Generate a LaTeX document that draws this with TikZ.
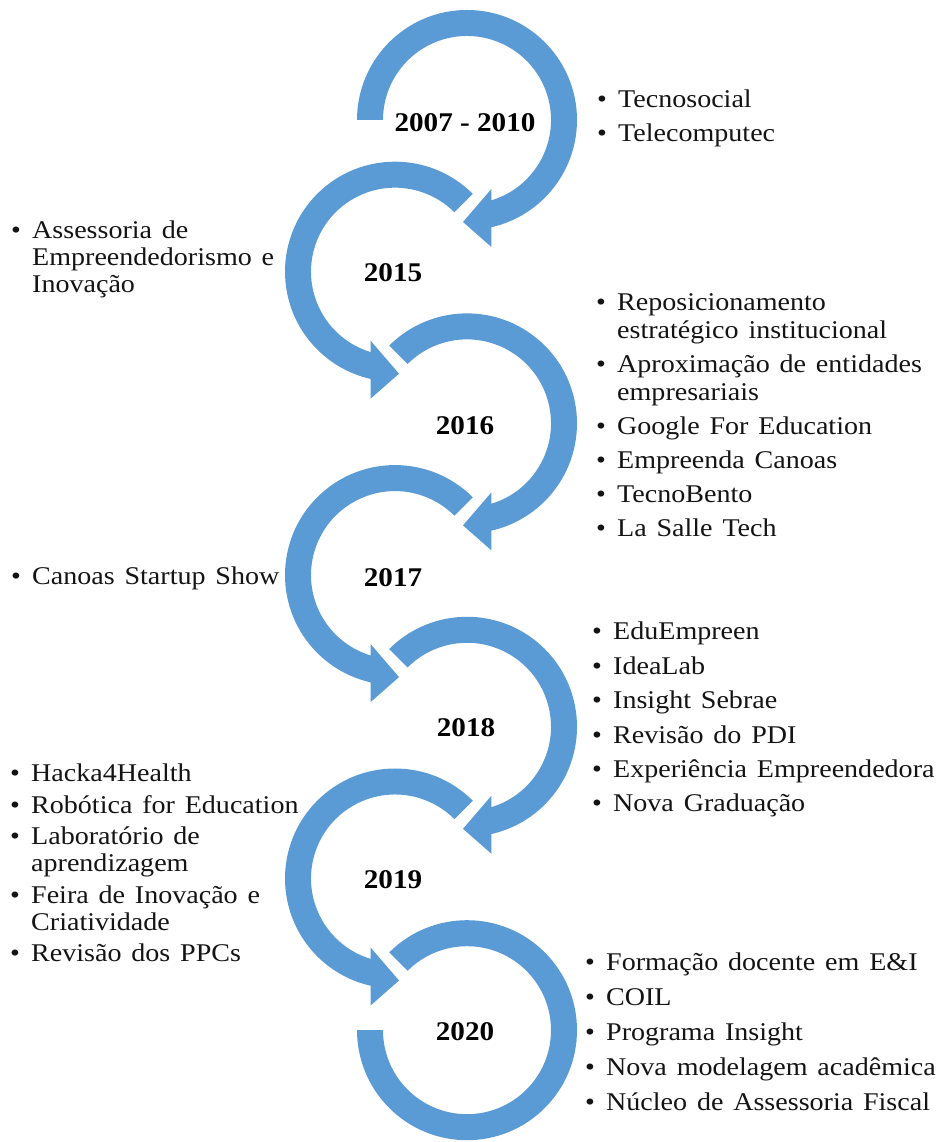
\documentclass[tikz,border=0pt]{standalone}
\usepackage{fontspec}
\setmainfont{Liberation Serif}[FakeStretch=1.1,WordSpace=1.4]
\newfontfamily\yearfont{Liberation Serif}[FakeStretch=1.08]
\definecolor{ringblue}{RGB}{91,155,213}
\definecolor{inktext}{RGB}{20,20,20}

% bullet column and continuation indent for the lists
\newcommand{\bul}{\makebox[21pt][l]{\textbullet}}
\newcommand{\cont}{\makebox[21pt][l]{}}

% clockwise ring arrow: #1 centre, #2 start angle; head at the bottom pointing left
\newcommand{\cwturn}[2]{%
  \fill[ring, shift={(#1)}] (#2:110) arc[start angle=#2, end angle=-77.2, radius=110]
    -- (24.4,-127) -- (-4,-102) -- (24.4,-69) -- (-73.1:84)
    arc[start angle=-73.1, end angle=#2, radius=84] -- cycle;}

% counter-clockwise ring arrow: #1 centre; head at the bottom pointing right
\newcommand{\ccwturn}[1]{%
  \fill[ring, shift={(#1)}] (45:110) arc[start angle=45, end angle=257.2, radius=110]
    -- (-24.4,-127) -- (4,-102) -- (-24.4,-69) -- (253.1:84)
    arc[start angle=253.1, end angle=45, radius=84] -- cycle;}

\begin{document}
\begin{tikzpicture}[x=1pt,y=1pt,
  ring/.style={fill=ringblue},
  year/.style={font=\yearfont\fontsize{27}{30}\selectfont\bfseries, inner sep=0, anchor=center, text=black},
  listtext/.style={inner sep=0, anchor=base west, text=inktext}]
\fill[white] (0,0) rectangle (941,1142);
\useasboundingbox (0,0) rectangle (941,1142);

% ring centres, alternating right and left
\coordinate (c0) at (467,1022);
\coordinate (c1) at (395,870.3);
\coordinate (c2) at (467,718.6);
\coordinate (c3) at (395,566.9);
\coordinate (c4) at (467,415.2);
\coordinate (c5) at (395,263.5);
\coordinate (c6) at (467,111.8);

% the chain of ring arrows
\cwturn{c0}{180}
\ccwturn{c1}
\cwturn{c2}{135}
\ccwturn{c3}
\cwturn{c4}{135}
\ccwturn{c5}
\fill[ring, shift={(c6)}] (135:110) arc[start angle=135, end angle=-180, radius=110]
  -- (180:84) arc[start angle=-180, end angle=135, radius=84] -- cycle;

% year labels
\node[year] (y0) at (465,1019) {2007 - 2010};
\node[year] (y1) at (393,869) {2015};
\node[year] (y2) at (465,716) {2016};
\node[year] (y3) at (393,564) {2017};
\node[year] (y4) at (466,414) {2018};
\node[year] (y5) at (393,262) {2019};
\node[year] (y6) at (465,110) {2020};

% bullet lists
\node[listtext, font=\fontsize{25.5}{34}\selectfont] (l0) at (597,1034)
  {\begin{tabular}[t]{@{}l@{}}\bul Tecnosocial\\ \bul Telecomputec\end{tabular}};

\node[listtext, font=\fontsize{25.5}{27}\selectfont] (l1) at (11,903)
  {\begin{tabular}[t]{@{}l@{}}\bul Assessoria de\\ \cont Empreendedorismo e\\ \cont Inovação\end{tabular}};

\node[listtext, font=\fontsize{25.5}{28}\selectfont] (l2) at (596,831)
  {\begin{tabular}[t]{@{}l@{}}\bul Reposicionamento\\ \cont estratégico institucional\\[6pt]
   \bul Aproximação de entidades\\ \cont empresariais\\[6pt]
   \bul Google For Education\\[6pt]
   \bul Empreenda Canoas\\[6pt]
   \bul TecnoBento\\[6pt]
   \bul La Salle Tech\end{tabular}};

\node[listtext, font=\fontsize{25.5}{30}\selectfont] (l3) at (11,557)
  {\begin{tabular}[t]{@{}l@{}}\bul Canoas Startup Show\end{tabular}};

\node[listtext, font=\fontsize{25.5}{34.4}\selectfont] (l4) at (592,502)
  {\begin{tabular}[t]{@{}l@{}}\bul EduEmpreen\\ \bul IdeaLab\\ \bul Insight Sebrae\\
   \bul Revisão do PDI\\ \bul Experiência Empreendedora\\ \bul Nova Graduação\end{tabular}};

\node[listtext, font=\fontsize{25.5}{27}\selectfont] (l5) at (10,360)
  {\begin{tabular}[t]{@{}l@{}}\bul Hacka4Health\\[4.5pt]
   \bul Robótica for Education\\[4.5pt]
   \bul Laboratório de\\ \cont aprendizagem\\[4.5pt]
   \bul Feira de Inovação e\\ \cont Criatividade\\[4.5pt]
   \bul Revisão dos PPCs\end{tabular}};

\node[listtext, font=\fontsize{25.5}{35}\selectfont] (l6) at (585,171)
  {\begin{tabular}[t]{@{}l@{}}\bul Formação docente em E\&I\\ \bul COIL\\ \bul Programa Insight\\
   \bul Nova modelagem acadêmica\\ \bul Núcleo de Assessoria Fiscal\end{tabular}};
\end{tikzpicture}
\end{document}
